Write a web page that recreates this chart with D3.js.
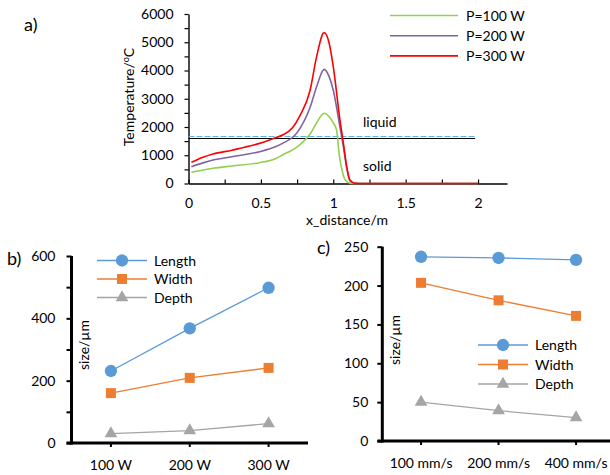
<!DOCTYPE html>
<html>
<head>
<meta charset="utf-8">
<script src="https://cdn.jsdelivr.net/npm/d3@7"></script>
<style>
  body { margin: 0; background: #fff; }
  svg { font-family: Lato, "Open Sans", sans-serif; }
  text { fill: #000; }
</style>
</head>
<body>
<svg id="chart" width="610" height="475"></svg>
<script>
// a) temperature along x for three laser powers  [x, T]
var p100 = [[0.02,396],[0.1,480],[0.17,537],[0.3,620],[0.49,737],[0.6,880],[0.65,1010],[0.75,1300],[0.84,1750],[0.885,2150],[0.937,2485],[0.977,2330],[1.0,2150],[1.023,1895],[1.04,1070],[1.06,480],[1.083,125],[1.12,5],[1.15,0],[2.0,0]];
var p200 = [[0.02,595],[0.1,730],[0.17,830],[0.3,950],[0.49,1125],[0.6,1300],[0.65,1420],[0.75,1800],[0.84,2700],[0.885,3425],[0.937,4040],[0.97,3800],[1.0,3300],[1.046,2000],[1.07,1300],[1.093,550],[1.115,100],[1.15,5],[1.2,0],[2.0,0]];
var p300 = [[0.02,750],[0.1,930],[0.17,1045],[0.3,1180],[0.49,1420],[0.6,1620],[0.65,1715],[0.72,1980],[0.77,2400],[0.84,3300],[0.885,4490],[0.937,5340],[0.97,5000],[1.0,4135],[1.046,2250],[1.07,1420],[1.093,595],[1.115,120],[1.15,10],[1.2,0],[2.0,0]];
var liquidT = 1635;
var liquidEnd = 1.98;

// b) size vs power
var powerCats = ["100 W", "200 W", "300 W"];
var lengthB = [231, 368, 498];
var widthB = [160, 209, 241];
var depthB = [30, 40, 62];

// c) size vs scan speed
var speedCats = ["100 mm/s", "200 mm/s", "400 mm/s"];
var lengthC = [237, 235.5, 233];
var widthC = [203.5, 181, 161];
var depthC = [50, 39, 30];

var svg = d3.select("#chart");

//---------------- panel a ----------------
var xa = d3.scaleLinear().domain([0, 2.2]).range([188.5, 507]);
var ya = d3.scaleLinear().domain([0, 6000]).range([183.5, 14]);

var ga = svg.append("g");

var yAxisA = d3.axisLeft(ya)
  .tickValues(d3.range(0, 6001, 500))
  .tickFormat(function(d) { return d % 1000 == 0 ? d : ""; })
  .tickSizeInner(4).tickSizeOuter(0).tickPadding(11);
ga.append("g").attr("transform", "translate(" + xa(0) + ",0)").call(yAxisA);

var xAxisA = d3.axisBottom(xa)
  .tickValues(d3.range(0, 2.01, 0.25))
  .tickFormat(function(d) { return (d * 2) % 1 == 0 ? d3.format("")(d) : ""; })
  .tickSizeInner(-4).tickSizeOuter(0).tickPadding(15);
ga.append("g").attr("transform", "translate(0," + ya(0) + ")").call(xAxisA);

ga.selectAll(".tick text").attr("font-size", 14).attr("font-family", "Lato");
ga.selectAll(".tick line").style("stroke", "#000").style("stroke-width", "1.2px");
ga.selectAll(".domain").style("stroke", "#000").style("stroke-width", "1.4px");

// liquidus line
ga.append("line")
  .attr("x1", xa(0)).attr("x2", xa(liquidEnd))
  .attr("y1", ya(liquidT) - 0.8).attr("y2", ya(liquidT) - 0.8)
  .attr("stroke", "#5fb3e2").attr("stroke-width", 1).attr("stroke-dasharray", "6,2");
ga.append("line")
  .attr("x1", xa(0)).attr("x2", xa(liquidEnd))
  .attr("y1", ya(liquidT) + 1.2).attr("y2", ya(liquidT) + 1.2)
  .attr("stroke", "#000").attr("stroke-width", 1);

var lineA = d3.line()
  .x(function(d) { return xa(d[0]); })
  .y(function(d) { return ya(d[1]); })
  .curve(d3.curveMonotoneX);

var seriesA = [
  {name: "P=100 W", data: p100, color: "#92d050"},
  {name: "P=200 W", data: p200, color: "#8064a2"},
  {name: "P=300 W", data: p300, color: "#ff0000"}
];

seriesA.forEach(function(s, i) {
  ga.append("path")
    .attr("d", lineA(s.data))
    .attr("fill", "none")
    .attr("stroke", s.color)
    .attr("stroke-width", 1.6);

  var ly = 15.5 + i * 20.2;
  ga.append("line")
    .attr("x1", 390).attr("x2", 458).attr("y1", ly).attr("y2", ly)
    .attr("stroke", s.color).attr("stroke-width", 1.6);
  ga.append("text")
    .attr("x", 466).attr("y", ly + 5)
    .attr("font-size", 14)
    .text(s.name);
});

ga.append("text").attr("x", 363).attr("y", 127).attr("font-size", 14).text("liquid");
ga.append("text").attr("x", 363).attr("y", 171).attr("font-size", 14).text("solid");

var yt = ga.append("text")
  .attr("transform", "translate(134,97) rotate(-90)")
  .attr("text-anchor", "middle")
  .attr("font-size", 14);
yt.append("tspan").text("Temperature/");
yt.append("tspan").attr("font-size", 9).attr("dy", -5).text("o");
yt.append("tspan").attr("dy", 5).text("C");

ga.append("text")
  .attr("x", 347).attr("y", 225)
  .attr("text-anchor", "middle").attr("font-size", 14)
  .text("x_distance/m");

svg.append("text").attr("x", 24).attr("y", 31).attr("font-size", 18).text("a)");

//---------------- panels b and c ----------------
var colors = {Length: "#5b9bd5", Width: "#ed7d31", Depth: "#a5a5a5"};
var shapes = {Length: d3.symbolCircle, Width: d3.symbolSquare, Depth: d3.symbolTriangle};
var sizes = {Length: 120, Width: 100, Depth: 70};

function drawPanel(cfg) {
  var g = svg.append("g");
  var x = d3.scaleBand().domain(cfg.cats).range(cfg.xRange);
  var y = d3.scaleLinear().domain([0, cfg.max]).range(cfg.yRange);

  var yAxis = d3.axisLeft(y)
    .tickValues(d3.range(0, cfg.max + 1, cfg.minor))
    .tickFormat(function(d) { return d % cfg.major == 0 ? d : ""; })
    .tickSizeInner(5).tickSizeOuter(0).tickPadding(cfg.yPad);
  g.append("g").attr("transform", "translate(" + cfg.xRange[0] + ",0)").call(yAxis);

  var xAxis = d3.axisBottom(x)
    .tickSizeInner(4).tickSizeOuter(0).tickPadding(13);
  g.append("g").attr("transform", "translate(0," + cfg.yRange[0] + ")").call(xAxis);

  // thick axis bars drawn by hand instead of the axis domain
  g.selectAll(".domain").remove();
  g.append("rect")
    .attr("x", cfg.xRange[0] - 1.5).attr("y", cfg.yRange[1])
    .attr("width", 3).attr("height", cfg.yRange[0] - cfg.yRange[1] + 1.5)
    .style("fill", "#000");
  g.append("rect")
    .attr("x", cfg.xRange[0] - 5).attr("y", cfg.yRange[0] - 1.5)
    .attr("width", cfg.xRange[1] - cfg.xRange[0] + 5).attr("height", 3)
    .style("fill", "#000");

  g.selectAll(".tick line").style("stroke", "#000").style("stroke-width", "2px");
  g.selectAll(".tick text").attr("font-size", 14).attr("font-family", "Lato");

  var line = d3.line()
    .x(function(d, i) { return x(cfg.cats[i]) + x.bandwidth() / 2; })
    .y(function(d) { return y(d); });

  cfg.series.forEach(function(s, k) {
    g.append("path")
      .attr("d", line(s.values))
      .attr("fill", "none")
      .attr("stroke", colors[s.name])
      .attr("stroke-width", 1.3);
    g.selectAll(null).data(s.values).enter().append("path")
      .attr("d", d3.symbol().type(shapes[s.name]).size(sizes[s.name]))
      .attr("transform", function(d, i) {
        return "translate(" + (x(cfg.cats[i]) + x.bandwidth() / 2) + "," + y(d) + ")";
      })
      .attr("fill", colors[s.name]);

    var ly = cfg.legY + k * cfg.legStep;
    g.append("line")
      .attr("x1", cfg.legX).attr("x2", cfg.legX + 50).attr("y1", ly).attr("y2", ly)
      .attr("stroke", colors[s.name]).attr("stroke-width", 1.3);
    g.append("path")
      .attr("d", d3.symbol().type(shapes[s.name]).size(sizes[s.name]))
      .attr("transform", "translate(" + (cfg.legX + 25) + "," + ly + ")")
      .attr("fill", colors[s.name]);
    g.append("text")
      .attr("x", cfg.legX + 57).attr("y", ly + 5)
      .attr("font-size", 14)
      .text(s.name);
  });

  g.append("text")
    .attr("transform", "translate(" + cfg.titleX + "," + cfg.titleY + ") rotate(-90)")
    .attr("text-anchor", "middle")
    .attr("font-size", 14)
    .text("size/\u00b5m");

  svg.append("text").attr("x", cfg.labX).attr("y", cfg.labY).attr("font-size", 18).text(cfg.label);
}

drawPanel({
  cats: powerCats, xRange: [71.5, 308], yRange: [443, 256], max: 600, major: 200, minor: 100, yPad: 11,
  series: [{name: "Length", values: lengthB}, {name: "Width", values: widthB}, {name: "Depth", values: depthB}],
  legX: 97, legY: 260.5, legStep: 18.5,
  titleX: 89, titleY: 345, label: "b)", labX: 7, labY: 265
});

drawPanel({
  cats: speedCats, xRange: [382.3, 614.8], yRange: [441, 246.7], max: 250, major: 50, minor: 50, yPad: 9,
  series: [{name: "Length", values: lengthC}, {name: "Width", values: widthC}, {name: "Depth", values: depthC}],
  legX: 478, legY: 345, legStep: 19.5,
  titleX: 400, titleY: 340, label: "c)", labX: 317, labY: 254
});
</script>
</body>
</html>
